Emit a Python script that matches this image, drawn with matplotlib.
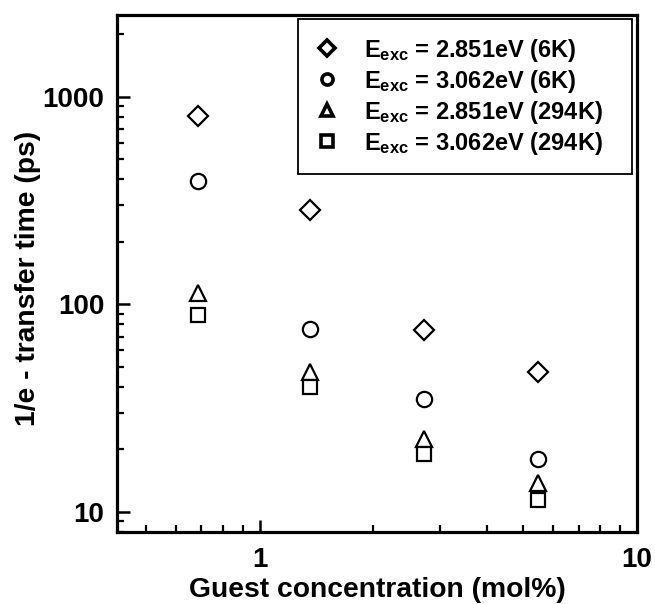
import matplotlib
matplotlib.use("Agg")
import matplotlib.pyplot as plt
from matplotlib.ticker import LogLocator, NullFormatter

plt.rcParams['font.family'] = ['Liberation Sans', 'DejaVu Sans']
plt.rcParams['font.weight'] = 'bold'
plt.rcParams['mathtext.fontset'] = 'custom'
plt.rcParams['mathtext.rm'] = 'Liberation Sans:bold'
plt.rcParams['mathtext.it'] = 'Liberation Sans:bold'
plt.rcParams['mathtext.bf'] = 'Liberation Sans:bold'

# Data
conc = [0.685, 1.36, 2.72, 5.45]
t_2851_6K = [813, 286, 75, 47]
t_3062_6K = [392, 76, 35, 18]
t_2851_294K = [113, 47, 22.5, 13.8]
t_3062_294K = [89, 40, 19, 11.4]

labels = [r'$\mathrm{E_{exc}}$ = 2.851eV (6K)',
          r'$\mathrm{E_{exc}}$ = 3.062eV (6K)',
          r'$\mathrm{E_{exc}}$ = 2.851eV (294K)',
          r'$\mathrm{E_{exc}}$ = 3.062eV (294K)']
x_ticks = [1, 10]
x_ticklabels = ['1', '10']
y_ticks = [10, 100, 1000]
y_ticklabels = ['10', '100', '1000']

fig = plt.figure(figsize=(6.55, 6.04), dpi=100)
ax = fig.add_axes([117/655, 1-532/604, 520/655, 517/604])

series = [(t_2851_6K, 'D', 10.5), (t_3062_6K, 'o', 11), (t_2851_294K, '^', 12), (t_3062_294K, 's', 9.5)]
for (vals, m, ms), lab in zip(series, labels):
    ax.plot(conc, vals, linestyle='none', marker=m, markersize=ms,
            markerfacecolor='white', markeredgecolor='black', markeredgewidth=1.6, label=lab)

ax.set_xscale('log')
ax.set_yscale('log')
ax.set_xlim(0.418, 10)
ax.set_ylim(8, 2480)

for s in ax.spines.values():
    s.set_linewidth(2.3)

ax.tick_params(which='major', direction='in', length=9, width=1.8, labelsize=20, top=False, right=False)
ax.tick_params(which='minor', direction='in', length=5, width=1.6, top=False, right=False)
ax.tick_params(axis='x', which='major', pad=11)
ax.tick_params(axis='y', which='major', pad=9)
ax.set_xticks(x_ticks)
ax.set_xticklabels(x_ticklabels)
ax.set_yticks(y_ticks)
ax.set_yticklabels(y_ticklabels)
ax.xaxis.set_minor_locator(LogLocator(base=10, subs=range(2, 10)))
ax.yaxis.set_minor_locator(LogLocator(base=10, subs=range(2, 10)))
ax.xaxis.set_minor_formatter(NullFormatter())
ax.yaxis.set_minor_formatter(NullFormatter())

ax.set_xlabel('Guest concentration (mol%)', fontsize=20.3, fontweight='bold')
ax.set_ylabel('1/e - transfer time (ps)', fontsize=20.3, fontweight='bold')
ax.xaxis.set_label_coords(0.5, -0.087)
ax.yaxis.set_label_coords(-0.147, 0.49)

leg = ax.legend(loc='upper left', bbox_to_anchor=(0.348, 0.9, 0.642, 0.0923), mode='expand',
                fontsize=17, frameon=True, fancybox=False,
                edgecolor='black', framealpha=1, borderaxespad=0.0,
                handletextpad=1.05, handlelength=1.0, labelspacing=0.17, borderpad=0.75)
leg.get_frame().set_linewidth(1.3)
for h in leg.legend_handles:
    h.set_markersize(8)
    h.set_markeredgewidth(2.6)

fig.savefig('out.png', dpi=100)
